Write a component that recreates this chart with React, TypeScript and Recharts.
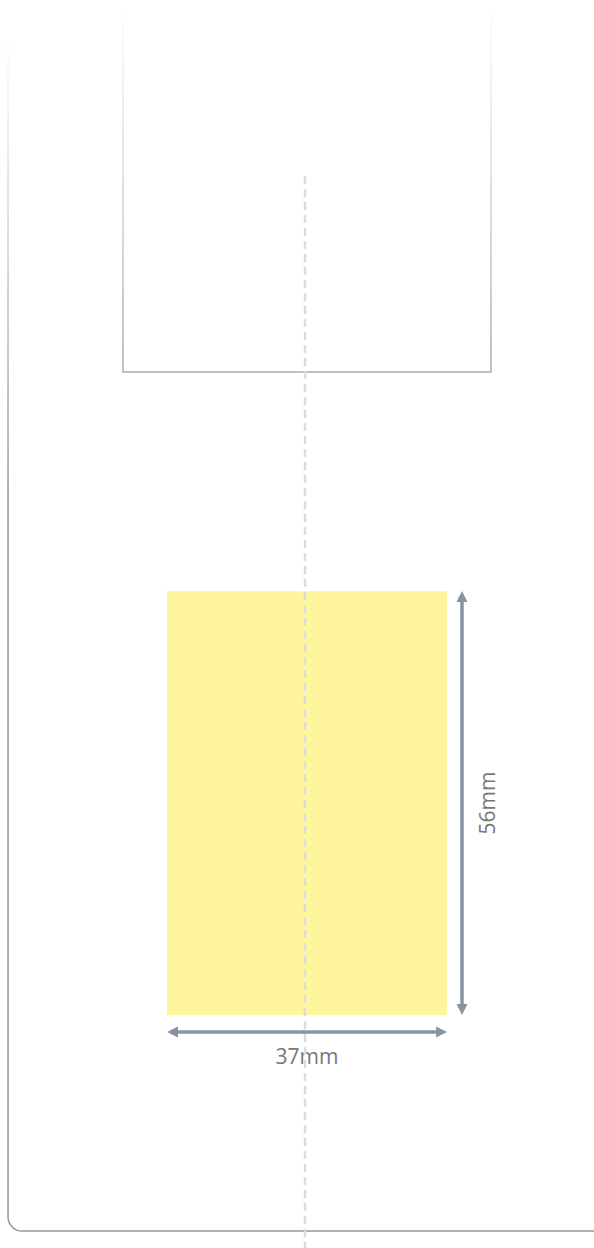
import { ComposedChart, XAxis, YAxis, ReferenceArea, ReferenceLine } from "recharts"

// all positions are in mm, measured from the top-left corner of the drawing
const PX_PER_MM = 7.57
const viewMm = [594 / PX_PER_MM, 1248 / PX_PER_MM]

const labelX = [22.06, 59.06] // 37mm wide
const labelY = [78.07, 134.07] // 56mm tall
const neckX = [16.25, 64.86]
const neckY = [0, 49.14]
const bottleX = [1.06, viewMm[0]]
const bottleY = [0, 162.62]
const centerLineX = 40.29
const centerLineY = [23.25, viewMm[1]]
const widthArrowY = 136.33
const heightArrowX = 61.03
const dimTexts = ["37mm", "56mm"]

const ARROW = "#8795a3"
const TEXT = "#777"
const HEAD = 11
const HALF = 5.5

function arrowShape(text: string, vertical: boolean) {
  return (p: any) => {
    const { x1, y1, x2, y2 } = p
    if (vertical) {
      const top = Math.min(y1, y2)
      const bot = Math.max(y1, y2)
      const x = x1
      return (
        <g>
          <line x1={x} x2={x} y1={top + HEAD - 1} y2={bot - HEAD + 1} stroke={ARROW} strokeWidth={3.5} />
          <polygon points={`${x},${top} ${x - HALF},${top + HEAD} ${x + HALF},${top + HEAD}`} fill={ARROW} />
          <polygon points={`${x},${bot} ${x - HALF},${bot - HEAD} ${x + HALF},${bot - HEAD}`} fill={ARROW} />
          <text
            transform={`translate(${x + 33},${(top + bot) / 2}) rotate(-90)`}
            textAnchor="middle"
            fontSize={21}
            fontFamily="Open Sans"
            fill={TEXT}
          >
            {text}
          </text>
        </g>
      )
    }
    const left = Math.min(x1, x2)
    const right = Math.max(x1, x2)
    const y = y1
    return (
      <g>
        <line x1={left + HEAD - 1} x2={right - HEAD + 1} y1={y} y2={y} stroke={ARROW} strokeWidth={3.5} />
        <polygon points={`${left},${y} ${left + HEAD},${y - HALF} ${left + HEAD},${y + HALF}`} fill={ARROW} />
        <polygon points={`${right},${y} ${right - HEAD},${y - HALF} ${right - HEAD},${y + HALF}`} fill={ARROW} />
        <text x={(left + right) / 2} y={y + 32} textAnchor="middle" fontSize={21} fontFamily="Open Sans" fill={TEXT}>
          {text}
        </text>
      </g>
    )
  }
}

// only the left side and the rounded bottom of the bottle are drawn
const bottleShape = (p: any) => {
  const { x, y, width, height } = p
  const r = 14
  const b = y + height
  return (
    <path
      d={`M${x},${y} L${x},${b - r} A${r},${r} 0 0 0 ${x + r},${b} L${x + width},${b}`}
      fill="none"
      stroke="url(#bottleFade)"
      strokeWidth={1.5}
    />
  )
}

export default function App() {
  return (
    <div style={{ position: "absolute", left: 0, top: 0, background: "#fff" }}>
      <ComposedChart width={594} height={1248} margin={{ top: 0, right: 0, bottom: 0, left: 0 }}>
        <defs>
          <linearGradient id="bottleFade" gradientUnits="userSpaceOnUse" x1="0" y1="30" x2="0" y2="500">
            <stop offset="0" stopColor="#8a99a8" stopOpacity={0} />
            <stop offset="1" stopColor="#8a99a8" stopOpacity={1} />
          </linearGradient>
          <linearGradient id="neckFade" gradientUnits="userSpaceOnUse" x1="0" y1="0" x2="0" y2="372">
            <stop offset="0" stopColor="#a3afba" stopOpacity={0} />
            <stop offset="1" stopColor="#a3afba" stopOpacity={1} />
          </linearGradient>
        </defs>
        <XAxis type="number" dataKey="x" domain={[0, viewMm[0]]} hide allowDataOverflow />
        <YAxis type="number" dataKey="y" domain={[0, viewMm[1]]} reversed hide allowDataOverflow />

        <ReferenceArea
          x1={bottleX[0]}
          x2={bottleX[1]}
          y1={bottleY[0]}
          y2={bottleY[1]}
          ifOverflow="visible"
          shape={bottleShape}
        />
        <ReferenceArea
          x1={neckX[0]}
          x2={neckX[1]}
          y1={neckY[0]}
          y2={neckY[1]}
          ifOverflow="visible"
          fill="none"
          stroke="url(#neckFade)"
          strokeWidth={1.5}
        />
        <ReferenceArea
          x1={labelX[0]}
          x2={labelX[1]}
          y1={labelY[0]}
          y2={labelY[1]}
          fill="#FFF59D"
          fillOpacity={1}
          stroke="none"
        />

        <ReferenceLine
          segment={[
            { x: labelX[0], y: widthArrowY },
            { x: labelX[1], y: widthArrowY },
          ]}
          ifOverflow="visible"
          shape={arrowShape(dimTexts[0], false)}
        />
        <ReferenceLine
          segment={[
            { x: heightArrowX, y: labelY[0] },
            { x: heightArrowX, y: labelY[1] },
          ]}
          ifOverflow="visible"
          shape={arrowShape(dimTexts[1], true)}
        />

        <ReferenceLine
          segment={[
            { x: centerLineX, y: centerLineY[0] },
            { x: centerLineX, y: centerLineY[1] },
          ]}
          ifOverflow="visible"
          stroke="#dcdcdc"
          strokeWidth={2.5}
          strokeDasharray="8 5"
        />
      </ComposedChart>
    </div>
  )
}
